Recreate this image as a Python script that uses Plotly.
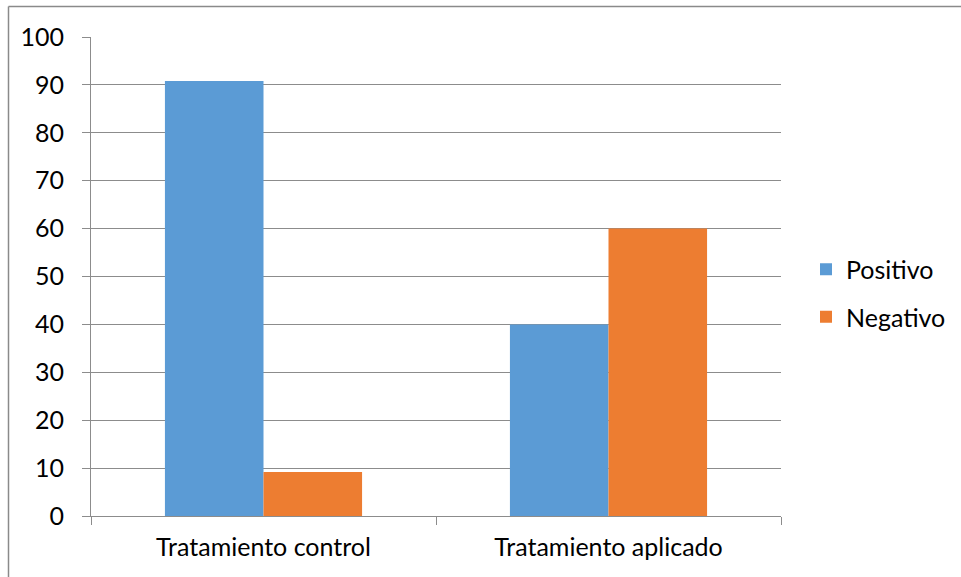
import plotly.graph_objects as go

categories = ["Tratamiento control", "Tratamiento aplicado"]
positivo = [90.8, 40]
negativo = [9.2, 60]
y_ticks = [0, 10, 20, 30, 40, 50, 60, 70, 80, 90, 100]

W, H = 961, 577
L, R, T, B = 91, 180, 37, 61
pw, ph = W - L - R, H - T - B

def px2paper_x(px):
    return (px - L) / pw

def px2paper_y(py):
    return (H - B - py) / ph

FONT = "Lato"
grid = "#8c8c8c"
FS = 25

fig = go.Figure()
fig.add_trace(go.Bar(name="Positivo", x=categories, y=positivo,
                     marker=dict(color="#5B9BD5", line=dict(width=0)),
                     legendgroup="a"))
fig.add_trace(go.Bar(name="Negativo", x=categories, y=negativo,
                     marker=dict(color="#ED7D31", line=dict(width=0)),
                     legendgroup="b"))

fig.update_layout(
    width=W, height=H,
    margin=dict(l=L, r=R, t=T, b=B, autoexpand=False),
    paper_bgcolor="white", plot_bgcolor="white",
    barmode="group", bargap=1.5 / 3.5, bargroupgap=0,
    font=dict(family=FONT, size=FS, color="#000000"),
    showlegend=True,
    legend=dict(x=px2paper_x(806), y=px2paper_y(293), xanchor="left", yanchor="middle",
                font=dict(family=FONT, size=FS, color="#000000"),
                tracegroupgap=12, itemwidth=30, bgcolor="rgba(0,0,0,0)"),
    xaxis=dict(type="category", showgrid=False, showline=True, linecolor=grid, linewidth=1,
               ticks="outside", tickson="boundaries", ticklen=8, tickcolor=grid,
               ticklabelstandoff=9, zeroline=False),
    yaxis=dict(range=[0, 100], tickvals=y_ticks, showgrid=True, gridcolor=grid, gridwidth=1,
               showline=True, linecolor=grid, linewidth=1,
               ticks="outside", ticklen=8, tickcolor=grid, ticklabelstandoff=13,
               zeroline=False),
    shapes=[
        dict(type="line", xref="paper", yref="paper",
             x0=px2paper_x(8.5), x1=px2paper_x(W + 5), y0=px2paper_y(6.5), y1=px2paper_y(6.5),
             line=dict(color="#8a8a8a", width=1.5)),
        dict(type="line", xref="paper", yref="paper",
             x0=px2paper_x(8.5), x1=px2paper_x(8.5), y0=px2paper_y(6.5), y1=px2paper_y(H + 5),
             line=dict(color="#8a8a8a", width=1.5)),
    ],
)

fig.write_html("out.html")
